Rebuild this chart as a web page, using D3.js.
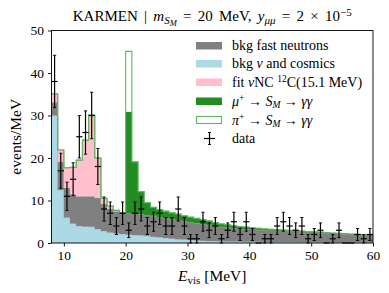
<!DOCTYPE html>
<html>
<head>
<meta charset="utf-8">
<script src="https://cdn.jsdelivr.net/npm/d3@7"></script>
<style>
  body { margin: 0; background: #fff; }
  text { font-family: "Liberation Serif", "DejaVu Serif", serif; fill: #000; }
</style>
</head>
<body>
<div id="chart"></div>
<script>
// 1 MeV bins, lower edges 8..59
const binLo = d3.range(8, 60);

const nuCosmics = [30.0, 12.5, 6.0, 4.6, 4.0, 3.9, 3.8, 3.3, 2.8, 2.5, 2.3, 2.1,
  2.0, 1.9, 1.8, 1.7, 1.5, 1.35, 1.2, 1.05, 0.9, 0.8,
  0.7, 0.6, 0.55, 0.5, 0.45, 0.4, 0.38, 0.35, 0.33, 0.3,
  0.28, 0.27, 0.26, 0.25, 0.24, 0.23, 0.22, 0.21, 0.2, 0.19,
  0.18, 0.17, 0.16, 0.15, 0.14, 0.13, 0.12, 0.11, 0.1, 0.1];
const fastNeutrons = [3.1, 6.6, 7.0, 6.9, 7.0, 7.1, 7.2, 7.3, 6.4, 5.5, 5.2, 5.0,
  5.0, 5.0, 5.0, 4.9, 4.9, 4.75, 4.7, 4.55, 4.5, 4.3,
  4.2, 4.1, 3.95, 3.8, 3.55, 3.4, 3.32, 3.15, 3.07, 3.0,
  2.92, 2.83, 2.74, 2.7, 2.66, 2.57, 2.53, 2.49, 2.4, 2.31,
  2.27, 2.23, 2.14, 2.05, 2.01, 1.97, 1.88, 1.84, 1.8, 1.75];
const fitNC = [2.0, 2.8, 4.7, 6.3, 8.5, 13.2, 19.1, 9.4, 1.3, 0.7, 0.2, 0.05,
  0, 0, 0, 0, 0, 0, 0, 0, 0, 0,
  0, 0, 0, 0, 0, 0, 0, 0, 0, 0,
  0, 0, 0, 0, 0, 0, 0, 0, 0, 0,
  0, 0, 0, 0, 0, 0, 0, 0, 0, 0];
const muDecay = [0, 0, 0, 0, 0, 0, 0, 0, 0, 0, 0, 0,
  23.8, 12.2, 5.3, 2.9, 2.0, 1.8, 1.6, 1.5, 1.4, 1.3,
  1.2, 1.1, 1.0, 0.9, 0.8, 0.7, 0.6, 0.55, 0.5, 0.45,
  0.4, 0.36, 0.32, 0.3, 0.28, 0.26, 0.24, 0.22, 0.2, 0.19,
  0.18, 0.17, 0.16, 0.15, 0.14, 0.13, 0.12, 0.11, 0.1, 0.1];
const piDecay = [0, 0, 0, 0, 0, 0, 0, 0, 0, 0, 0, 0,
  14.3, 0, 0, 0, 0, 0, 0, 0, 0, 0,
  0, 0, 0, 0, 0, 0, 0, 0, 0, 0,
  0, 0, 0, 0, 0, 0, 0, 0, 0, 0,
  0, 0, 0, 0, 0, 0, 0, 0, 0, 0];
const dataCounts = [38, 17, 11, 15, 25, 26, 30, 18, 8, 7, 4, 7,
  3, 7, 8, 4, 5, 7, 4, 4, 8, 4,
  1, 1, 5, 3, 4, 1, 3, 5, 2, 5,
  2, 0, 1, 1, 4, 5, 4, 3, 4, 1,
  2, 3, 0, 1, 3, 0, 0, 2, 1, 2];

const xTicks = [10, 20, 30, 40, 50, 60];
const yTicks = [0, 10, 20, 30, 40, 50];

const width = 389, height = 293;
const m = { left: 51.5, right: 373, top: 30.5, bottom: 243 };

const svg = d3.select("#chart").append("svg")
    .attr("width", width)
    .attr("height", height);

const x = d3.scaleLinear().domain([8, 60]).range([m.left, m.right]);
const y = d3.scaleLinear().domain([0, 50]).range([m.bottom, m.top]);

const keys = ["nu", "fast", "fit", "mu", "pi"];
const colors = { nu: "#add8e6", fast: "#808080", fit: "#ffc0cb", mu: "#228b22" };
const outline = "#62b562";

const rows = binLo.map((b, i) => ({
    x: b, nu: nuCosmics[i], fast: fastNeutrons[i], fit: fitNC[i], mu: muDecay[i], pi: piDecay[i]
}));
// extra row so the last step reaches the right bin edge
rows.push(Object.assign({}, rows[rows.length - 1], { x: 60 }));

const series = d3.stack().keys(keys)(rows);

const area = d3.area()
    .x(d => x(d.data.x))
    .y0(d => y(d[0]))
    .y1(d => y(d[1]))
    .curve(d3.curveStepAfter);

const plot = svg.append("g");

plot.selectAll("path.layer")
    .data(series.filter(s => s.key !== "pi"))
    .enter().append("path")
    .attr("class", "layer")
    .attr("d", area)
    .attr("fill", s => colors[s.key])
    .attr("stroke", s => colors[s.key])
    .attr("stroke-width", 0.3);

// pi+ histogram: step outline of the whole stack
const stepLine = d3.line()
    .x(d => x(d.data.x))
    .y(d => y(d[1]))
    .curve(d3.curveStepAfter);

plot.append("path")
    .attr("d", stepLine(series[series.length - 1]))
    .attr("fill", "none")
    .attr("stroke", outline)
    .attr("stroke-width", 1.1);

// data points with sqrt(N) errors
const pts = svg.append("g")
    .selectAll("g")
    .data(binLo.map((b, i) => ({ lo: b, n: dataCounts[i] })))
    .enter().append("g")
    .attr("stroke", "#000")
    .attr("stroke-width", 1.2);

pts.append("line")
    .attr("x1", d => x(d.lo))
    .attr("x2", d => x(d.lo + 1))
    .attr("y1", d => y(d.n))
    .attr("y2", d => y(d.n));

pts.filter(d => d.n > 0).append("line")
    .attr("x1", d => x(d.lo + 0.5))
    .attr("x2", d => x(d.lo + 0.5))
    .attr("y1", d => y(d.n - Math.sqrt(d.n)))
    .attr("y2", d => y(d.n + Math.sqrt(d.n)));

pts.filter(d => d.n > 0).each(function(d) {
    const g = d3.select(this);
    [d.n - Math.sqrt(d.n), d.n + Math.sqrt(d.n)].forEach(v => {
        g.append("line")
            .attr("x1", x(d.lo + 0.5) - 1.6)
            .attr("x2", x(d.lo + 0.5) + 1.6)
            .attr("y1", y(v))
            .attr("y2", y(v))
            .attr("stroke-width", 0.9);
    });
});

// frame
svg.append("rect")
    .attr("x", m.left).attr("y", m.top)
    .attr("width", m.right - m.left).attr("height", m.bottom - m.top)
    .attr("fill", "none")
    .attr("stroke", "#000")
    .attr("stroke-width", 0.9);

const xAxis = svg.append("g")
    .attr("transform", `translate(0,${m.bottom})`)
    .call(d3.axisBottom(x).tickValues(xTicks).tickSize(3.5).tickPadding(4));
const yAxis = svg.append("g")
    .attr("transform", `translate(${m.left},0)`)
    .call(d3.axisLeft(y).tickValues(yTicks).tickSize(3.5).tickPadding(4));

[xAxis, yAxis].forEach(a => {
    a.select(".domain").remove();
    a.selectAll("line").attr("stroke", "#000").attr("stroke-width", 0.9);
    a.selectAll("text")
        .style("font-family", "Liberation Serif, serif")
        .style("font-size", "13.5px")
        .attr("fill", "#000");
});

// text with simple math parts: s = vertical shift (down +), i = italic, f = size
function richText(sel, parts) {
    let shift = 0;
    parts.forEach(p => {
        const t = sel.append("tspan").text(p.t);
        const target = p.s || 0;
        if (target !== shift) {
            t.attr("dy", target - shift);
            shift = target;
        }
        if (p.i) t.style("font-style", "italic");
        if (p.f) t.style("font-size", p.f + "px");
    });
    return sel;
}

// title
richText(svg.append("text")
    .attr("x", (m.left + m.right) / 2)
    .attr("y", 21)
    .attr("text-anchor", "middle")
    .style("font-size", "15px")
    .style("word-spacing", "2.5px"), [
    { t: "KARMEN | " },
    { t: "m", i: true },
    { t: "S", i: true, s: 2.5, f: 11 },
    { t: "M", i: true, s: 4.5, f: 8.5 },
    { t: " = 20 MeV, " },
    { t: "y", i: true },
    { t: "μμ", i: true, s: 2.5, f: 11 },
    { t: " = 2 × 10" },
    { t: "−5", s: -5.5, f: 11 }
]);

// axis labels
richText(svg.append("text")
    .attr("x", (m.left + m.right) / 2)
    .attr("y", 281)
    .attr("text-anchor", "middle")
    .style("font-size", "15.5px"), [
    { t: "E", i: true },
    { t: "vis", s: 2.5, f: 11 },
    { t: " [MeV]", s: 0 }
]);

svg.append("text")
    .attr("transform", `translate(21,${(m.top + m.bottom) / 2}) rotate(-90)`)
    .attr("text-anchor", "middle")
    .style("font-size", "15.5px")
    .text("events/MeV");

// legend
const legendRows = [
    { y: 45.5, type: "fill", color: colors.fast, parts: [{ t: "bkg fast neutrons" }] },
    { y: 63.5, type: "fill", color: colors.nu, parts: [{ t: "bkg " }, { t: "ν", i: true }, { t: " and cosmics" }] },
    { y: 82, type: "fill", color: colors.fit, parts: [{ t: "fit " }, { t: "ν", i: true }, { t: "NC " }, { t: "12", s: -4.5, f: 9.5 }, { t: "C(15.1 MeV)", s: 0 }] },
    { y: 101, type: "fill", color: colors.mu, parts: [{ t: "μ", i: true }, { t: "+", s: -4.5, f: 9.5 }, { t: " → ", s: 0 }, { t: "S", i: true }, { t: "M", i: true, s: 2.5, f: 9.5 }, { t: " → ", s: 0 }, { t: "γγ", i: true }] },
    { y: 120, type: "open", color: outline, parts: [{ t: "π", i: true }, { t: "+", s: -4.5, f: 9.5 }, { t: " → ", s: 0 }, { t: "S", i: true }, { t: "M", i: true, s: 2.5, f: 9.5 }, { t: " → ", s: 0 }, { t: "γγ", i: true }] },
    { y: 138.5, type: "data", parts: [{ t: "data" }] }
];

const legend = svg.append("g");
legendRows.forEach(r => {
    if (r.type === "fill") {
        legend.append("rect")
            .attr("x", 196).attr("y", r.y - 3.5)
            .attr("width", 26).attr("height", 7.5)
            .attr("fill", r.color);
    } else if (r.type === "open") {
        legend.append("rect")
            .attr("x", 196.5).attr("y", r.y - 3.5)
            .attr("width", 25).attr("height", 7)
            .attr("fill", "#fff")
            .attr("stroke", r.color)
            .attr("stroke-width", 1.1);
    } else {
        const g = legend.append("g").attr("stroke", "#000").attr("stroke-width", 1.2);
        g.append("line").attr("x1", 204).attr("x2", 215).attr("y1", r.y).attr("y2", r.y);
        g.append("line").attr("x1", 209.5).attr("x2", 209.5).attr("y1", r.y - 6).attr("y2", r.y + 6);
        g.append("line").attr("x1", 208).attr("x2", 211).attr("y1", r.y - 6).attr("y2", r.y - 6).attr("stroke-width", 0.9);
        g.append("line").attr("x1", 208).attr("x2", 211).attr("y1", r.y + 6).attr("y2", r.y + 6).attr("stroke-width", 0.9);
    }
    richText(legend.append("text")
        .attr("x", 232)
        .attr("y", r.y + 4.5)
        .style("font-size", "14px"), r.parts);
});
</script>
</body>
</html>
